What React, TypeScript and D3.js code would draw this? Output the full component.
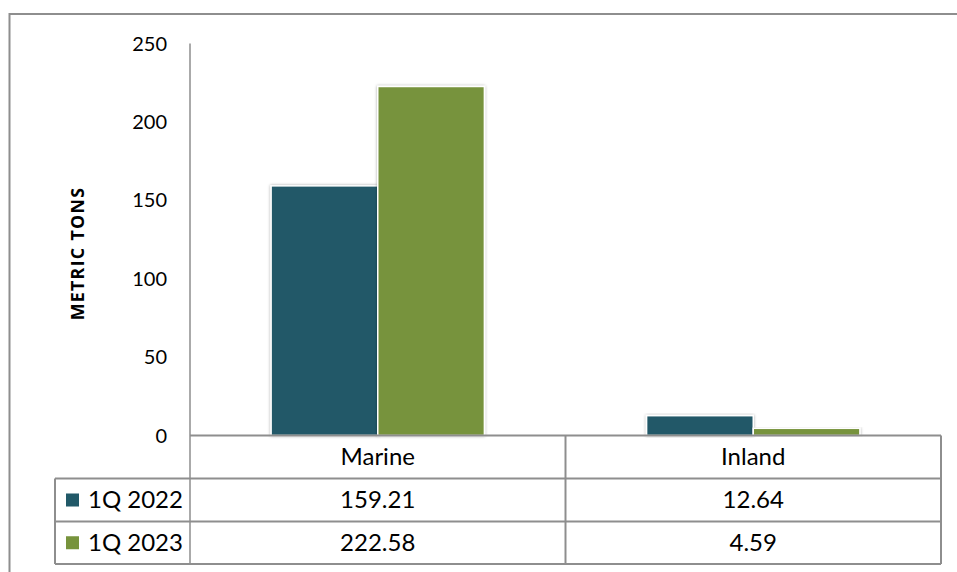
import React from "react";
import * as d3 from "d3";

const categories = ["Marine", "Inland"];
const seriesNames = ["1Q 2022", "1Q 2023"];
const values2022 = [159.21, 12.64];
const values2023 = [222.58, 4.59];
const valueLabels2022 = ["159.21", "12.64"];
const valueLabels2023 = ["222.58", "4.59"];
const yTicks = [0, 50, 100, 150, 200, 250];
const colors = ["#215968", "#77933C"];

const W = 957;
const H = 572;
const plotLeft = 190;
const plotRight = 941;
const plotTop = 43.5;
const plotBottom = 435.5;
const legendLeft = 55;
const rowLines = [435.5, 478.5, 521.5, 564];

export default function App() {
  const y = d3.scaleLinear().domain([0, 250]).range([plotBottom, plotTop]);
  const x0 = d3.scaleBand<string>().domain(categories).range([plotLeft, plotRight]).paddingInner(0).paddingOuter(0);
  const groupW = x0.bandwidth() * 0.568;
  const x1 = d3.scaleBand<string>().domain(seriesNames).range([0, groupW]).padding(0);
  const series = [values2022, values2023];
  const labels = [valueLabels2022, valueLabels2023];
  const font = "Lato, 'Open Sans', sans-serif";
  const lineColor = "#8E8E8E";
  const tableFs = 24;

  return (
    <svg width={W} height={H} style={{ position: "absolute", left: 0, top: 0, background: "#fff" }} fontFamily={font}>
      <defs>
        <filter id="sh" x="-10%" y="-10%" width="120%" height="120%">
          <feDropShadow dx="0" dy="0" stdDeviation="1.6" floodColor="#000" floodOpacity="0.35" />
        </filter>
      </defs>
      {/* outer border */}
      <path d={`M9.5,${H + 2} V14 H${W + 2}`} fill="none" stroke={lineColor} strokeWidth={2} />

      {/* y ticks */}
      {yTicks.map((t) => (
        <text key={t} x={167} y={y(t)} dy="0.35em" textAnchor="end" fontSize={20} fill="#000">
          {t}
        </text>
      ))}
      <text
        transform={`translate(83.5,253.5) rotate(-90)`}
        textAnchor="middle"
        fontSize={17.8}
        fontWeight="bold"
        fontFamily="'Open Sans', sans-serif"
        letterSpacing={1.3}
        fill="#000"
      >
        METRIC TONS
      </text>

      {/* bars */}
      {categories.map((c, ci) => {
        const gx = x0(c)! + (x0.bandwidth() - groupW) / 2;
        return series.map((s, si) => (
          <rect
            key={c + si}
            x={gx + x1(seriesNames[si])!}
            y={y(s[ci])}
            width={x1.bandwidth()}
            height={plotBottom - y(s[ci])}
            fill={colors[si]}
            stroke="#fff"
            strokeWidth={1.5}
            filter="url(#sh)"
          />
        ));
      })}

      {/* axis line */}
      <line x1={plotLeft} x2={plotLeft} y1={plotTop} y2={rowLines[3]} stroke={lineColor} strokeWidth={1.5} />

      {/* table */}
      <line x1={plotLeft} x2={plotRight} y1={rowLines[0]} y2={rowLines[0]} stroke={lineColor} strokeWidth={2} />
      {rowLines.slice(1).map((ly, i) => (
        <line key={i} x1={legendLeft} x2={plotRight} y1={ly} y2={ly} stroke={lineColor} strokeWidth={2} />
      ))}
      <line x1={legendLeft} x2={legendLeft} y1={rowLines[1]} y2={rowLines[3]} stroke={lineColor} strokeWidth={2} />
      {categories.map((c, ci) => (
        <line
          key={"v" + ci}
          x1={x0(c)! + x0.bandwidth()}
          x2={x0(c)! + x0.bandwidth()}
          y1={rowLines[0]}
          y2={rowLines[3]}
          stroke={lineColor}
          strokeWidth={2}
        />
      ))}
      {categories.map((c) => (
        <text key={"h" + c} x={x0(c)! + x0.bandwidth() / 2} y={(rowLines[0] + rowLines[1]) / 2} dy="0.35em" textAnchor="middle" fontSize={tableFs} fill="#000">
          {c}
        </text>
      ))}
      {seriesNames.map((sn, si) => {
        const cy = (rowLines[si + 1] + rowLines[si + 2]) / 2;
        return (
          <g key={sn}>
            <rect x={66} y={cy - 6.5} width={13} height={13} fill={colors[si]} />
            <text x={88} y={cy} dy="0.35em" fontSize={tableFs} fill="#000">
              {sn}
            </text>
            {categories.map((c, ci) => (
              <text key={c} x={x0(c)! + x0.bandwidth() / 2} y={cy} dy="0.35em" textAnchor="middle" fontSize={tableFs} fill="#000">
                {labels[si][ci]}
              </text>
            ))}
          </g>
        );
      })}
    </svg>
  );
}
